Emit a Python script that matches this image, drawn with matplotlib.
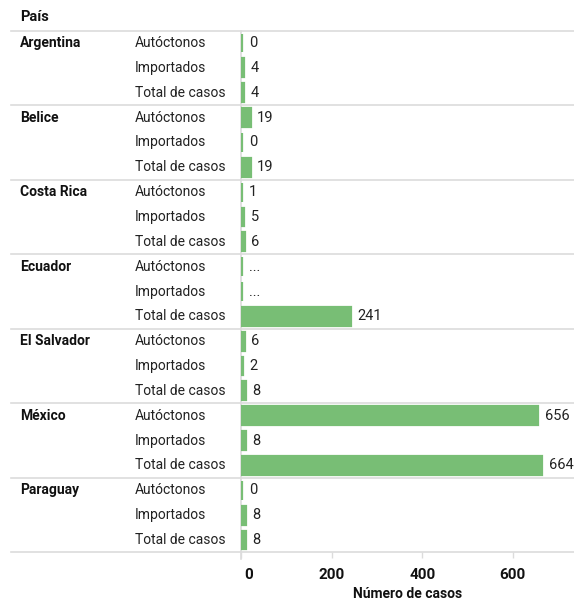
import matplotlib.pyplot as plt
import matplotlib.transforms as mtransforms

plt.rcParams['font.family'] = ['Roboto', 'DejaVu Sans']

countries = ['Argentina', 'Belice', 'Costa Rica', 'Ecuador', 'El Salvador', 'México', 'Paraguay']
kinds = ['Autóctonos', 'Importados', 'Total de casos']
# None means the figure is not available ("...")
cases = [
    [0, 4, 4],
    [19, 0, 19],
    [1, 5, 6],
    [None, None, 241],
    [6, 2, 8],
    [656, 8, 664],
    [0, 8, 8],
]
x_ticks = [0, 200, 400, 600]

green = '#78be75'
grid = '#dcdcdc'

fig = plt.figure(figsize=(5.74, 6), dpi=100)
ax = fig.add_axes([0.4207, 0.0793, 0.5793, 0.8697])
trans = mtransforms.blended_transform_factory(ax.transAxes, ax.transData)

n_rows = len(countries) * len(kinds)
ax.set_xlim(0, 736)
ax.set_ylim(n_rows - 0.5, -0.5)

row = 0
for ci, country in enumerate(countries):
    for ki, kind in enumerate(kinds):
        v = cases[ci][ki]
        val = 0 if v is None else v
        ax.barh(row, val, left=1, height=0.76, color=green, edgecolor=green,
                linewidth=1.6, zorder=2)
        label = '...' if v is None else f'{v}'
        ax.text(val + 16, row, label, va='center', ha='left', fontsize=10.5, color='#222222')
        ax.text(-0.32, row, kind, transform=trans,
                va='center', ha='left', fontsize=10, color='#222222')
        if ki == 0:
            ax.text(-0.665, row, country, transform=trans,
                    va='center', ha='left', fontsize=10, fontweight='bold', color='#111111')
        row += 1

# group separators running across the label columns
for g in range(len(countries) + 1):
    y = g * len(kinds) - 0.5
    ax.plot([-0.692, 1.0], [y, y], transform=trans, color=grid, linewidth=1.2,
            clip_on=False, zorder=0)

ax.axvline(-2, color=grid, linewidth=1.2, zorder=0, ymin=-0.012, clip_on=False)

ax.text(-0.665, -1.05, 'País', transform=trans, fontsize=10.5, fontweight='bold',
        va='center', ha='left', color='#111111')

for s in ax.spines.values():
    s.set_visible(False)
ax.set_yticks([])
ax.set_xticks(x_ticks)
ax.set_xticklabels([str(t) for t in x_ticks], fontsize=11, fontweight='bold', color='#111111')
ax.tick_params(axis='x', length=4, width=1, color=grid, pad=7)
# first tick label sits just right of the zero line
first = ax.get_xticklabels()[0]
first.set_transform(first.get_transform() + mtransforms.ScaledTranslation(7 / 100, 0, fig.dpi_scale_trans))
ax.set_xlabel('Número de casos', fontsize=10, fontweight='bold', color='#111111', labelpad=4)

fig.savefig('out.png', dpi=100)
